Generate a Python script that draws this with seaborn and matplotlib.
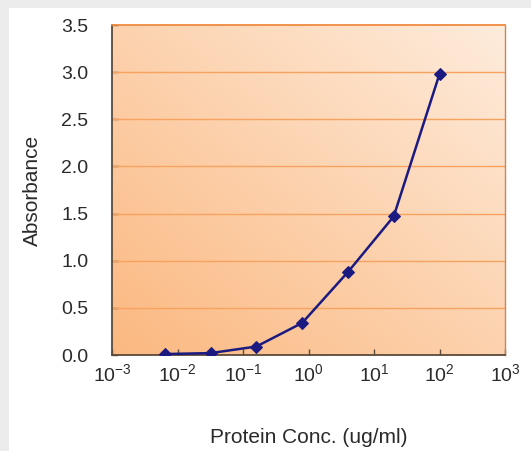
import numpy as np
import pandas as pd
import matplotlib
matplotlib.use("Agg")
import matplotlib.pyplot as plt
from matplotlib.patches import Rectangle
import seaborn as sns

# Values (5-fold dilution series)
conc_ug_ml = [0.0064, 0.032, 0.16, 0.8, 4.0, 20.0, 100.0]
absorbance = [0.01, 0.02, 0.09, 0.34, 0.88, 1.47, 2.98]
x_tick_vals = [1e-3, 1e-2, 1e-1, 1e0, 1e1, 1e2, 1e3]
x_tick_labels = [r"$\mathregular{10^{-3}}$", r"$\mathregular{10^{-2}}$", r"$\mathregular{10^{-1}}$",
                 r"$\mathregular{10^{0}}$", r"$\mathregular{10^{1}}$", r"$\mathregular{10^{2}}$",
                 r"$\mathregular{10^{3}}$"]
y_tick_vals = [0.0, 0.5, 1.0, 1.5, 2.0, 2.5, 3.0, 3.5]

df = pd.DataFrame({"conc": conc_ug_ml, "abs": absorbance})

sns.set_theme(style="white")
plt.rcParams["font.family"] = ["Liberation Sans", "DejaVu Sans"]
plt.rcParams["mathtext.fontset"] = "custom"
plt.rcParams["mathtext.rm"] = "Liberation Sans"

fig = plt.figure(figsize=(5.31, 4.51), dpi=100, facecolor="#ececec")
# white panel inside light grey frame
fig.patches.append(Rectangle((9 / 531, 0), 1, 1 - 8 / 451, transform=fig.transFigure,
                             facecolor="white", edgecolor="none", zorder=-5))
ax = fig.add_axes([112 / 531, 1 - 355 / 451, 393 / 531, 330 / 451])
ax.set_xscale("log")

# orange gradient background (darker bottom-left -> lighter top-right)
gx, gy = np.meshgrid(np.linspace(0, 1, 200), np.linspace(0, 1, 200))
t = (gx + gy) / 2
c0 = np.array([251, 184, 128]) / 255
c1 = np.array([254, 236, 220]) / 255
grad = c0[None, None, :] * (1 - t[..., None]) + c1[None, None, :] * t[..., None]
ax.imshow(grad, extent=[0, 1, 0, 1], transform=ax.transAxes, origin="lower",
          aspect="auto", zorder=0)

for yv in y_tick_vals[1:-1]:
    ax.axhline(yv, color="#f7a25e", lw=1.0, zorder=1)

sns.lineplot(data=df, x="conc", y="abs", ax=ax, color="#1a1a80", lw=1.8,
             marker="D", markersize=6, markeredgecolor="#1a1a80", zorder=3)

ax.set_xlim(1e-3, 1e3)
ax.set_ylim(0, 3.5)
ax.set_xticks(x_tick_vals)
ax.set_xticklabels(x_tick_labels)
ax.minorticks_off()
ax.set_yticks(y_tick_vals)
ax.set_yticklabels([f"{v:.1f}" for v in y_tick_vals])
ax.tick_params(axis="x", direction="in", length=4, width=1, color="#5a4a3a",
               pad=6, labelsize=14, labelcolor="#2a2a2a", bottom=True)
ax.tick_params(axis="y", direction="in", length=4, width=1, color="#5a4a3a",
               pad=17, labelsize=14, labelcolor="#2a2a2a", left=True)

ax.set_xlabel("Protein Conc. (ug/ml)", fontsize=15, color="#2a2a2a", labelpad=31)
ax.set_ylabel("Absorbance", fontsize=15, color="#2a2a2a", labelpad=14)

for side in ["left", "bottom"]:
    ax.spines[side].set_color("#5a4a3a")
    ax.spines[side].set_linewidth(1.3)
ax.spines["top"].set_color("#f08a40")
ax.spines["top"].set_linewidth(1.3)
ax.spines["right"].set_color("#c8875a")
ax.spines["right"].set_linewidth(1.0)
for sp in ax.spines.values():
    sp.set_visible(True)

fig.savefig("out.png", dpi=100, facecolor=fig.get_facecolor())
